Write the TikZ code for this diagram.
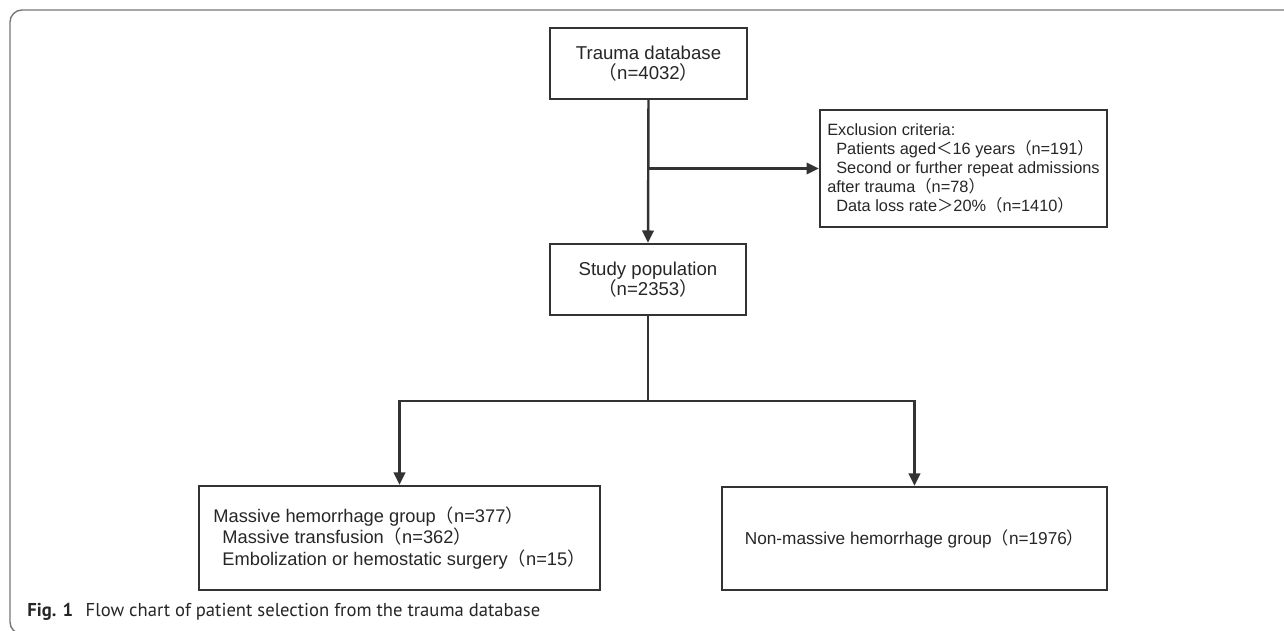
\documentclass[tikz,border=0pt]{standalone}
\usepackage{fontspec}
\setmainfont{Liberation Sans}
\newfontfamily\cjk{Noto Sans CJK SC}
\newfontfamily\capfont{PT Sans}
\usetikzlibrary{arrows.meta,positioning}
\def\lp{{\cjk （}}
\def\rp{{\cjk ）}}
\def\ind{\hspace*{0.18cm}}
\definecolor{boxcol}{HTML}{333333}
\definecolor{framecol}{HTML}{777777}
\tikzset{
	box/.style={draw=boxcol, line width=1.4pt, text=black!85, inner sep=0pt},
	line/.style={draw=boxcol, line width=1.4pt},
	flow/.style={line, -{Triangle[length=7pt,width=6.5pt]}},
	caption/.style={font=\capfont\fontsize{10.6pt}{13pt}\selectfont, text=black!85, inner sep=0pt}
}

\begin{document}
\begin{tikzpicture}[x=0.02cm, y=-0.02cm]
		%%%%% START %%%%%
		\useasboundingbox (0, 0) rectangle (1284, 630);
		\draw[framecol, line width=0.8pt, rounded corners=0.24cm] (1300, 634) -- (10, 634) -- (10, 10) -- (1300, 10);
		
		\node[box, minimum width=3.94cm, minimum height=1.42cm, align=center, font=\fontsize{10.6pt}{11.4pt}\selectfont] (trauma) at (648.5, 63.5) {Trauma database\\\lp n=4032\rp};
		\node[box, minimum width=5.74cm, minimum height=2.34cm, align=left, font=\fontsize{9.3pt}{10.8pt}\selectfont] (excl) at (963.5, 168.5) {Exclusion criteria:\\\ind Patients aged{\cjk ＜}16 years\lp n=191\rp\\\ind Second or further repeat admissions\\after trauma\lp n=78\rp\\\ind Data loss rate{\cjk ＞}20\%\lp n=1410\rp};
		\node[box, minimum width=3.92cm, minimum height=1.42cm, align=center, font=\fontsize{10.6pt}{11.4pt}\selectfont] (study) at (648, 279.5) {Study population\\\lp n=2353\rp};
		
		\node[box, minimum width=8.02cm, minimum height=2.08cm, align=left, font=\fontsize{10.4pt}{12.2pt}\selectfont] (massive) at (399.5, 538) {Massive hemorrhage group\lp n=377\rp\\\ind Massive transfusion\lp n=362\rp\\\ind Embolization or hemostatic surgery\lp n=15\rp};
		\node[box, minimum width=7.7cm, minimum height=2.06cm, align=center, font=\fontsize{9.8pt}{12pt}\selectfont] (nonmassive) at (914.5, 538.5) {Non-massive hemorrhage group\lp n=1976\rp};
		
		\coordinate (split1) at (trauma.south |- excl.west);
		\coordinate (split2) at (648, 401);
		
		\draw[flow] (trauma.south) -- (study.north);
		\draw[flow] (split1) -- (excl.west);
		\draw[line] (study.south) -- (split2);
		\draw[flow] (split2) -| (massive.north);
		\draw[flow] (split2) -| (nonmassive.north);
		
		\node[caption, anchor=base west] (cap) at (27, 616) {\textbf{Fig. 1}\hspace{0.25cm}Flow chart of patient selection from the trauma database};
		%%%%% END %%%%%
	\end{tikzpicture}
\end{document}
